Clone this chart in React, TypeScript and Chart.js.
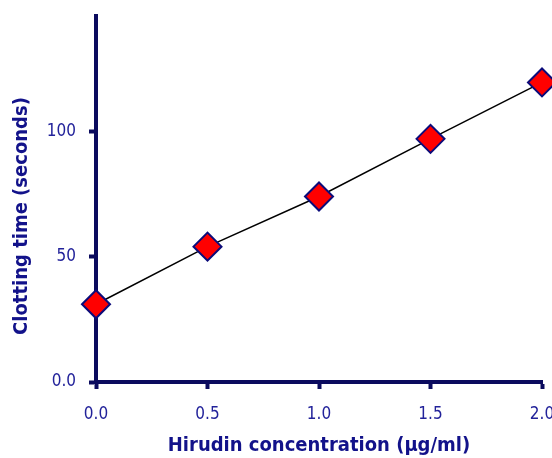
import React, { useEffect, useRef } from "react";
import { Chart, registerables } from "chart.js";

Chart.register(...registerables);

const concentrations = [0.0, 0.5, 1.0, 1.5, 2.0];
const clottingTimes = [31, 54, 74, 97, 119.5];
const xTickValues = [0.0, 0.5, 1.0, 1.5, 2.0];
const yTickValues = [0, 50, 100];
const yTickLabels = ["0.0", "50", "100"];
const xTitle = "Hirudin concentration (\u00b5g/ml)";
const yTitle = "Clotting time (seconds)";

const AXIS = "#0b0b5e";
const TICK_TEXT = "#22229a";
const TITLE_TEXT = "#12128a";
const FONT = "'DejaVu Sans Condensed', 'DejaVu Sans', sans-serif";

export default function App() {
  const ref = useRef<HTMLCanvasElement | null>(null);

  useEffect(() => {
    document.body.style.margin = "0";
    document.body.style.overflow = "hidden";
    const canvas = ref.current;
    if (!canvas) return;

    const yTitlePlugin = {
      id: "yTitlePlugin",
      afterDraw(chart: any) {
        const ctx = chart.ctx;
        ctx.save();
        ctx.translate(22, 216);
        ctx.rotate(-Math.PI / 2);
        ctx.font = `bold 20px ${FONT}`;
        ctx.fillStyle = TITLE_TEXT;
        ctx.textAlign = "center";
        ctx.textBaseline = "middle";
        ctx.fillText(yTitle, 0, 0);
        ctx.restore();
      },
    };

    const chart = new Chart(canvas, {
      type: "line",
      data: {
        datasets: [
          {
            data: concentrations.map((x, i) => ({ x, y: clottingTimes[i] })),
            borderColor: "#000000",
            borderWidth: 1.5,
            pointStyle: "rectRot",
            pointRadius: 14,
            pointHoverRadius: 14,
            pointBackgroundColor: "#ff0000",
            pointBorderColor: "#0b0b7a",
            pointBorderWidth: 2,
            tension: 0,
            clip: false as any,
          },
        ],
      },
      options: {
        animation: false,
        responsive: false,
        maintainAspectRatio: false,
        layout: { padding: { left: 0, right: 58, top: 12, bottom: 0 } },
        plugins: {
          legend: { display: false },
          tooltip: { enabled: false },
          title: { display: false },
        },
        scales: {
          x: {
            type: "linear",
            min: 0,
            max: 2,
            afterBuildTicks: (scale: any) => {
              scale.ticks = xTickValues.map((v) => ({ value: v }));
            },
            afterFit: (scale: any) => {
              scale.height = 76;
            },
            ticks: {
              callback: (v: any) => Number(v).toFixed(1),
              color: TICK_TEXT,
              font: { family: FONT, size: 17 },
              padding: 15,
              maxRotation: 0,
            },
            grid: {
              drawOnChartArea: false,
              drawTicks: true,
              tickLength: 7,
              tickWidth: 4,
              tickColor: AXIS,
            },
            border: { display: true, color: AXIS, width: 4 },
            title: {
              display: true,
              text: xTitle,
              color: TITLE_TEXT,
              font: { family: FONT, size: 20, weight: "bold" },
              padding: { top: 0, bottom: 0 },
            },
          },
          y: {
            type: "linear",
            min: 0,
            max: 146,
            afterBuildTicks: (scale: any) => {
              scale.ticks = yTickValues.map((v) => ({ value: v }));
            },
            afterFit: (scale: any) => {
              scale.width = 96;
              scale.paddingTop = 0;
              scale.paddingBottom = 0;
            },
            ticks: {
              callback: (v: any) => yTickLabels[yTickValues.indexOf(Number(v))] ?? "",
              color: TICK_TEXT,
              font: { family: FONT, size: 17 },
              padding: 13,
            },
            grid: {
              drawOnChartArea: false,
              drawTicks: true,
              tickLength: 7,
              tickWidth: 4,
              tickColor: AXIS,
            },
            border: { display: true, color: AXIS, width: 4 },
          },
        },
      } as any,
      plugins: [yTitlePlugin],
    });

    return () => chart.destroy();
  }, []);

  return (
    <div style={{ width: 552, height: 458, overflow: "hidden", position: "relative" }}>
      <canvas ref={ref} width={600} height={458} style={{ width: 600, height: 458, display: "block" }} />
    </div>
  );
}
